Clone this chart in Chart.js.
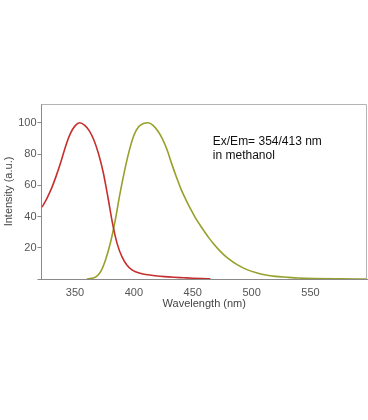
<!DOCTYPE html>
<html>
<head>
<meta charset="utf-8">
<script src="https://cdn.jsdelivr.net/npm/chart.js@4.4.1/dist/chart.umd.min.js"></script>
<style>
  html, body { margin: 0; padding: 0; background: #fff; }
  #wrap { width: 368px; height: 420px; }
</style>
</head>
<body>
<div id="wrap"><canvas id="spec"></canvas></div>
<script>
// excitation (red) curve
var exWl  = [322, 326, 330, 334, 338, 342, 346, 350, 354, 358, 362, 366, 370, 374, 378, 382, 386, 390, 394, 398, 402, 406, 410, 418, 426, 434, 442, 450, 458, 465];
var exInt = [46, 51.5, 58, 66, 75, 85, 93, 98, 100, 98.5, 95, 89, 80, 68, 52, 35, 22, 14, 9, 6, 4.5, 3.5, 2.9, 2.1, 1.5, 1.1, 0.8, 0.5, 0.25, 0.1];

// emission (green) curve
var emWl  = [360, 364, 368, 372, 376, 380, 384, 388, 392, 396, 400, 404, 408, 412, 416, 420, 424, 428, 432, 436, 440, 444, 448, 452, 456, 460, 464, 468, 472, 476, 480, 488, 496, 504, 512, 520, 530, 540, 553, 575, 598];
var emInt = [0, 0.4, 1.5, 5, 12.5, 23, 37, 54, 69, 82, 92, 97.5, 99.5, 100, 98.5, 95, 90, 83, 74, 65.5, 57.5, 51, 45, 39.5, 34.7, 30.2, 26, 22.2, 18.8, 15.8, 13.2, 9, 6, 4, 2.6, 1.7, 1.1, 0.6, 0.3, 0.1, 0];

var xTicks = [350, 400, 450, 500, 550];
var yTicks = [0, 20, 40, 60, 80, 100];

var note = ['Ex/Em= 354/413 nm', 'in methanol'];

function pts(xs, ys) {
  return xs.map(function (x, i) { return { x: x, y: ys[i] }; });
}

var frame = {
  id: 'frame',
  afterDraw: function (chart) {
    var a = chart.chartArea, c = chart.ctx;
    c.save();
    c.strokeStyle = '#b4b4b4';
    c.lineWidth = 1;
    c.beginPath();
    c.moveTo(a.left, a.top + 0.5);
    c.lineTo(a.right - 0.5, a.top + 0.5);
    c.lineTo(a.right - 0.5, a.bottom);
    c.stroke();
    // annotation
    var xs = chart.scales.x, ys = chart.scales.y;
    c.fillStyle = '#111';
    c.font = '12px "Liberation Sans", Arial, sans-serif';
    c.textBaseline = 'alphabetic';
    c.fillText(note[0], xs.getPixelForValue(467), ys.getPixelForValue(86));
    c.fillText(note[1], xs.getPixelForValue(467), ys.getPixelForValue(77));
    c.restore();
  }
};

var tickFont = { family: '"Liberation Sans", Arial, sans-serif', size: 11 };

var ctx = document.getElementById('spec').getContext('2d');
var spec = new Chart(ctx, {
  type: 'line',
  data: {
    datasets: [{
      label: 'Excitation',
      data: pts(exWl, exInt),
      borderColor: '#c62f2f',
      borderWidth: 1.6,
      pointRadius: 0,
      cubicInterpolationMode: 'monotone'
    }, {
      label: 'Emission',
      data: pts(emWl, emInt),
      borderColor: '#96a02a',
      borderWidth: 1.6,
      pointRadius: 0,
      cubicInterpolationMode: 'monotone'
    }]
  },
  options: {
    responsive: true,
    maintainAspectRatio: false,
    animation: false,
    layout: { padding: { left: 0, top: 104, right: 1, bottom: 109 } },
    plugins: { legend: { display: false }, tooltip: { enabled: false } },
    scales: {
      x: {
        type: 'linear',
        min: 321.5,
        max: 598,
        afterBuildTicks: function (s) { s.ticks = xTicks.map(function (v) { return { value: v }; }); },
        afterFit: function (s) { s.height = 32; },
        grid: { drawOnChartArea: false, drawTicks: false },
        border: { color: '#8a8a8a', width: 1 },
        ticks: { color: '#555', font: tickFont, padding: 7, maxRotation: 0 },
        title: { display: true, text: 'Wavelength (nm)', color: '#444', font: tickFont, padding: { top: 0, bottom: 0 } }
      },
      y: {
        min: 0,
        max: 112,
        afterBuildTicks: function (s) { s.ticks = yTicks.map(function (v) { return { value: v }; }); },
        afterFit: function (s) { s.width = 41.5; },
        grid: { drawOnChartArea: false, drawTicks: true, tickLength: 4, color: '#8a8a8a' },
        border: { color: '#8a8a8a', width: 1 },
        ticks: {
          color: '#555', font: tickFont, padding: 1,
          callback: function (v) { return v === 0 ? '' : v; }
        },
        title: { display: true, text: 'Intensity (a.u.)', color: '#444', font: tickFont, padding: { top: 2, bottom: 0 } }
      }
    }
  },
  plugins: [frame]
});
</script>
</body>
</html>
